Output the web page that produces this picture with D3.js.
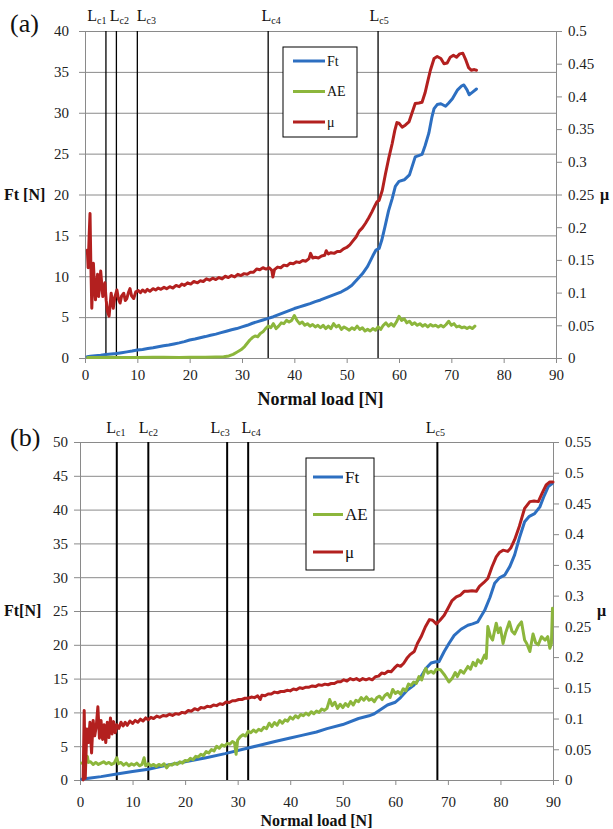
<!DOCTYPE html>
<html>
<head>
    <meta charset="utf-8">
    <title>Ft, AE and mu versus normal load</title>
    <style>
        body { margin: 0; background: #fff; }
        svg { display: block; }
        .grid line { stroke: #8a8a8a; stroke-width: 1; }
        .grid path { display: none; }
        .axis path, .axis line { stroke: #8a8a8a; }
        .series { fill: none; stroke-width: 3; stroke-linejoin: round; stroke-linecap: round; }
    </style>
</head>
<body>
    <svg id="chart" width="613" height="829"></svg>
    <script src="https://d3js.org/d3.v7.min.js"></script>
    <script>
        // ---------- panel (a) ----------
        const aCritical = [4, 6, 10, 35, 56];
        const aCriticalNames = ["c1", "c2", "c3", "c4", "c5"];
        // [normal load, Ft (N)]
        const aFt = [[0.4,0.16],[1,0.2],[2,0.27],[3,0.33],[4,0.42],[5,0.5],[6,0.55],[7,0.65],[8,0.75],[9,0.85],[10,0.97],
            [11,1.05],[12,1.15],[13,1.25],[14,1.38],[15,1.5],[16,1.6],[17,1.72],[18,1.85],[19,2.0],[20,2.2],[21,2.33],
            [22,2.48],[23,2.62],[24,2.78],[25,2.92],[26,3.1],[27,3.28],[28,3.45],[29,3.6],[30,3.8],[31,4.0],[32,4.25],
            [33,4.45],[34,4.65],[35,4.85],[36,5.05],[37,5.3],[38,5.55],[39,5.8],[40,6.05],[41,6.25],[42,6.45],[43,6.65],
            [44,6.9],[45,7.1],[46,7.35],[47,7.6],[48,7.85],[49,8.1],[50,8.45],[51,8.9],[52,9.6],[53,10.3],[54,11.2],
            [55,12.5],[55.6,13.2],[56.2,13.4],[56.7,14.4],[57.3,16],[58,18],[58.7,19.5],[59.3,21],[60,21.6],[61,21.8],
            [62,22.4],[63.1,24.6],[64.4,24.9],[65,26],[65.7,27.5],[66.3,29.5],[66.7,30.5],[67.3,31.0],[68,31.1],
            [68.9,30.8],[69.5,31.2],[70.2,31.7],[71.2,32.8],[72,33.3],[72.4,33.4],[73,32.8],[73.4,32.2],[74,32.5],[74.8,32.9]];
        // [normal load, AE] plotted on the Ft scale
        const aAE = [[0.5,0.05],[2,0.07],[5,0.08],[7,0.05],[10,0.06],[13,0.09],[15,0.1],[18,0.07],[20,0.08],[23,0.1],[25,0.12],
            [26.5,0.15],[27.5,0.25],[28.3,0.45],[29,0.7],[29.8,1.0],[30.5,1.4],[31,1.8],[31.5,2.2],[32,2.5],[32.5,2.7],
            [33,2.6],[33.5,3.0],[34,3.2],[34.5,3.6],[35,3.9],[35.5,3.7],[36,4.2],[36.5,3.6],[37,3.9],[37.5,4.3],[38,4.2],
            [38.5,4.6],[39,4.4],[39.5,4.6],[40,5.2],[40.5,4.6],[41,4.2],[41.5,4.4],[42,4.0],[42.5,4.2],[43,3.9],[43.5,4.1],
            [44,3.8],[44.5,4.0],[45,3.7],[45.5,4.0],[46,3.6],[46.5,3.9],[47,3.6],[47.5,4.2],[48,3.8],[48.5,4.0],[49,3.5],
            [49.5,3.8],[50,3.6],[50.5,3.4],[51,3.7],[51.5,3.5],[52,3.9],[52.5,3.5],[53,3.7],[53.5,3.3],[54,3.5],[54.5,3.3],
            [55,3.6],[55.5,3.4],[56,3.8],[56.5,3.5],[57,4.0],[57.5,4.3],[58,3.9],[58.5,4.2],[59,3.9],[59.5,4.4],[60,5.1],
            [60.5,4.6],[61,4.8],[61.5,4.3],[62,4.5],[62.5,4.1],[63,4.3],[63.5,4.0],[64,4.2],[64.5,3.9],[65,4.1],[65.5,3.8],
            [66,4.1],[66.5,3.9],[67,4.0],[67.5,3.8],[68,4.0],[68.5,3.8],[69,4.1],[69.5,4.5],[70,4.0],[70.5,4.2],[71,3.8],
            [71.5,3.9],[72,3.7],[72.5,3.8],[73,3.6],[73.5,3.8],[74,3.6],[74.5,3.9]];
        // [normal load, mu]
        const aMu = [[0.45,0.165],[0.6,0.138],[0.8,0.188],[0.96,0.221],[1.1,0.15],[1.3,0.076],[1.45,0.113],[1.6,0.145],
            [1.8,0.113],[2.0,0.089],[2.2,0.113],[2.4,0.128],[2.6,0.094],[2.8,0.11],[3.0,0.133],[3.2,0.113],[3.4,0.094],
            [3.6,0.106],[3.8,0.115],[4.05,0.088],[4.3,0.071],[4.6,0.064],[4.8,0.081],[5.0,0.099],[5.2,0.088],[5.4,0.076],
            [5.7,0.093],[6.1,0.104],[6.4,0.09],[6.7,0.084],[7.0,0.095],[7.4,0.099],[7.7,0.088],[8.0,0.091],[8.3,0.1],
            [8.6,0.106],[8.9,0.095],[9.3,0.091],[9.7,0.101],[10.2,0.103],[10.6,0.100],[11,0.104],[11.5,0.101],[11.9,0.105],
            [12.4,0.102],[13,0.106],[13.5,0.104],[14,0.107],[14.5,0.105],[15.1,0.108],[15.6,0.106],[16.2,0.109],[16.8,0.107],
            [17.4,0.111],[18,0.109],[18.5,0.113],[19,0.111],[19.6,0.115],[20.2,0.113],[20.8,0.117],[21.5,0.115],[22,0.118],
            [22.6,0.117],[23.2,0.121],[23.8,0.119],[24.4,0.122],[25,0.120],[25.6,0.123],[26.2,0.121],[26.8,0.125],
            [27.4,0.123],[28,0.126],[28.6,0.124],[29.2,0.128],[29.8,0.126],[30.4,0.129],[31,0.128],[31.6,0.131],[32.2,0.131],
            [32.8,0.136],[33.4,0.135],[34,0.138],[34.6,0.136],[35.2,0.138],[35.7,0.134],[35.9,0.124],[36.2,0.135],
            [36.8,0.139],[37.4,0.138],[38,0.142],[38.6,0.141],[39.2,0.145],[39.8,0.144],[40.4,0.147],[41,0.146],[41.6,0.149],
            [42.2,0.148],[42.8,0.152],[43.1,0.16],[43.5,0.153],[44,0.154],[44.6,0.153],[45.2,0.156],[45.8,0.157],
            [46.1,0.164],[46.5,0.159],[47,0.161],[47.6,0.16],[48.2,0.163],[48.8,0.163],[49.4,0.167],[50,0.169],[50.6,0.173],
            [51.2,0.179],[51.8,0.185],[52.4,0.194],[53,0.199],[53.6,0.206],[54.2,0.214],[54.8,0.223],[55.4,0.233],
            [55.8,0.239],[56.2,0.241],[56.8,0.256],[57.4,0.281],[58,0.304],[58.7,0.328],[59.2,0.348],[59.6,0.36],[60,0.359],
            [60.6,0.353],[61.2,0.356],[61.9,0.361],[62.5,0.375],[63.1,0.389],[63.8,0.39],[64.4,0.391],[65,0.406],[65.4,0.42],
            [66,0.44],[66.7,0.458],[67.3,0.461],[68,0.458],[68.6,0.45],[69.2,0.451],[69.8,0.46],[70.4,0.463],[71,0.46],
            [71.6,0.465],[72.2,0.466],[72.8,0.455],[73.3,0.444],[73.8,0.44],[74.4,0.441],[74.8,0.44]];

        // ---------- panel (b) ----------
        const bCritical = [7, 13, 28, 32, 68];
        const bCriticalNames = ["c1", "c2", "c3", "c4", "c5"];
        const bFt = [[0.3,0.1],[2,0.3],[4,0.5],[7,0.9],[10,1.25],[13,1.6],[16,2.1],[20,2.7],[24,3.3],[27.6,3.9],[31.8,4.7],
            [34,5.1],[37.1,5.7],[40,6.2],[42.2,6.6],[45,7.1],[47,7.6],[50,8.2],[53,9.1],[55,9.5],[56,9.8],[58.5,11.1],
            [60,11.5],[61,12.2],[62.3,13.3],[63.5,14.0],[64.9,15.3],[65.8,16.5],[66.8,17.3],[67.7,17.5],[68.3,17.5],
            [69.3,19.0],[70.2,20.2],[71.2,21.4],[72.5,22.3],[73.8,22.9],[74.7,23.1],[75.7,23.4],[77.0,25.1],[78,27],
            [78.9,29.1],[79.8,29.9],[80.8,30.3],[81.8,31.6],[82.7,33.3],[83.6,35.8],[84.6,38.2],[85.5,39.0],[86.5,39.4],
            [87.5,40.4],[88.3,42.0],[89.1,43.4],[89.9,43.9]];
        const bAE = [[0.3,2.5],[0.8,2.4],[1.2,2.9],[1.4,3.5],[1.6,2.6],[2,2.7],[2.5,2.3],[3,2.6],[3.5,2.3],[4,2.5],[4.5,2.7],
            [5,2.4],[5.5,2.6],[6,2.3],[6.5,2.5],[7,3.3],[7.3,2.4],[7.8,2.6],[8.3,2.2],[8.8,2.5],[9.3,2.1],[9.8,2.4],
            [10.3,2.2],[10.8,2.5],[11.3,2.1],[11.8,2.3],[12.2,3.3],[12.5,2.1],[13,2.4],[13.5,2.1],[14,2.3],[14.5,2.0],
            [15,2.3],[15.5,2.1],[16,2.4],[16.5,1.8],[17,2.3],[17.5,2.2],[18,2.5],[18.5,2.3],[19,2.7],[19.5,2.5],[20,2.9],
            [20.5,2.8],[21,3.2],[21.5,3.0],[22,3.5],[22.5,3.4],[23,3.8],[23.5,3.6],[24,4.2],[24.5,4.0],[25,4.5],[25.5,4.3],
            [26,5.0],[26.5,4.7],[27,5.2],[27.5,5.0],[28,5.4],[28.5,5.3],[29,5.7],[29.4,5.5],[29.7,3.8],[30,5.9],[30.5,6.4],
            [31,6.7],[31.5,6.5],[32,7.2],[32.5,7.0],[33,7.4],[33.5,7.1],[34,7.5],[34.5,7.3],[35,7.8],[35.5,7.6],[36,8.4],
            [36.5,7.9],[37,8.5],[37.5,8.1],[38,8.8],[38.5,8.4],[39,8.9],[39.5,8.7],[40,9.3],[40.5,9.0],[41,9.5],[41.5,9.2],
            [42,9.7],[42.5,9.5],[43,9.9],[43.5,9.6],[44,10.1],[44.5,9.8],[45,10.2],[45.5,10.0],[46,10.5],[46.5,10.3],
            [47,10.6],[47.5,11.9],[48,11.0],[48.5,11.5],[49,10.6],[49.5,11.2],[50,10.7],[50.5,11.3],[51,10.9],[51.5,11.6],
            [52,11.1],[52.5,11.8],[53,11.6],[53.5,12.2],[54,11.8],[54.5,12.3],[55,11.8],[55.5,12.0],[56,11.6],[56.5,12.2],
            [57,12.4],[57.5,11.9],[58,12.5],[58.5,12.8],[59,12.2],[59.5,13.4],[60,12.8],[60.5,13.1],[61,12.7],[61.5,13.5],
            [62,13.2],[62.5,14.2],[63,14.0],[63.5,14.5],[64,14.3],[64.5,15.3],[65,14.8],[65.5,16.0],[65.8,16.5],[66.2,15.8],
            [66.8,16.1],[67.3,15.8],[67.8,16.4],[68.6,16.3],[69.4,15.5],[70.2,14.5],[70.8,15.0],[71.4,15.9],[71.8,15.3],
            [72.4,16.2],[73,15.8],[73.8,16.8],[74.3,16.4],[74.8,17.4],[75.3,16.9],[75.7,17.8],[76.3,17.3],[77.0,18.5],
            [77.3,18.0],[77.6,22.7],[78.1,21.2],[78.5,20.7],[79.2,23.2],[79.6,21.8],[80.0,22.5],[80.5,20.2],[81.0,21.8],
            [81.7,23.4],[82.2,22.0],[82.7,21.6],[83.4,22.8],[84.0,23.4],[84.6,20.7],[85.0,20.2],[85.6,19.0],[86.2,21.6],
            [86.7,20.3],[87.2,20.0],[87.8,21.2],[88.5,20.7],[89.0,21.2],[89.4,19.5],[89.7,20.2],[89.9,25.4]];
        const bMu = [[0.6,0],[0.8,0.113],[1.0,0.003],[1.3,0.083],[1.6,0.061],[1.9,0.094],[2.2,0.044],[2.5,0.097],[2.8,0.072],
            [3.1,0.088],[3.4,0.119],[3.7,0.068],[4.0,0.097],[4.3,0.066],[4.6,0.09],[4.9,0.061],[5.2,0.094],[5.5,0.069],
            [5.8,0.101],[6.1,0.075],[6.4,0.095],[6.7,0.077],[7.0,0.090],[7.4,0.084],[7.8,0.094],[8.2,0.088],[8.6,0.094],
            [9.0,0.089],[9.5,0.096],[10,0.092],[10.5,0.097],[11,0.094],[11.5,0.099],[12,0.096],[12.5,0.101],[13,0.098],
            [13.5,0.102],[14,0.100],[14.6,0.104],[15.2,0.102],[15.8,0.105],[16.4,0.104],[17,0.107],[17.6,0.105],[18.2,0.108],
            [18.8,0.107],[19.4,0.110],[20,0.109],[20.6,0.113],[21.2,0.112],[21.8,0.116],[22.4,0.114],[23,0.118],[23.6,0.117],
            [24.2,0.120],[24.8,0.119],[25.4,0.122],[26,0.121],[26.6,0.124],[27.2,0.123],[27.8,0.127],[28.4,0.126],[29,0.129],
            [29.6,0.129],[30.2,0.131],[30.8,0.131],[31.4,0.133],[32,0.133],[32.6,0.135],[33.2,0.134],[33.8,0.137],[34.3,0.131],
            [34.6,0.138],[35.2,0.137],[35.8,0.140],[36.4,0.140],[37,0.143],[37.6,0.142],[38.2,0.144],[38.8,0.144],[39.4,0.146],
            [40,0.145],[40.6,0.148],[41.2,0.147],[41.8,0.150],[42.4,0.149],[43,0.151],[43.6,0.151],[44.2,0.153],[44.8,0.152],
            [45.4,0.155],[46,0.154],[46.6,0.156],[47.2,0.155],[47.8,0.157],[48.4,0.157],[49,0.160],[49.6,0.160],[50.2,0.163],
            [50.8,0.161],[51.4,0.165],[52,0.163],[52.6,0.165],[53.2,0.162],[53.8,0.165],[54.4,0.163],[55,0.165],[55.6,0.163],
            [56.2,0.168],[56.8,0.169],[57.4,0.174],[58,0.173],[58.6,0.177],[59.2,0.176],[59.8,0.182],[60.4,0.187],[61,0.185],
            [61.6,0.19],[62.2,0.198],[62.8,0.204],[63.6,0.209],[64.2,0.222],[64.9,0.233],[65.7,0.249],[66.5,0.261],
            [67.1,0.26],[67.8,0.254],[68.5,0.26],[69.3,0.268],[70,0.279],[70.8,0.292],[71.6,0.298],[72.4,0.301],[73.1,0.307],
            [73.8,0.307],[74.6,0.308],[75.4,0.307],[76,0.315],[76.8,0.321],[77.6,0.328],[78.4,0.347],[79.2,0.363],[79.8,0.37],
            [80.5,0.374],[81.4,0.372],[82,0.378],[82.7,0.391],[83.6,0.413],[84.6,0.442],[85.6,0.453],[86.4,0.454],
            [87.2,0.453],[88,0.468],[88.7,0.48],[89.4,0.485],[90,0.485]];

        const seriesNames = ["Ft", "AE", "\u03bc"];
        const seriesColors = ["#2d6fc1", "#8cb63c", "#b3201f"];
        const SERIF = "'Liberation Serif', 'Times New Roman', serif";

        const svg = d3.select("#chart");

        // d3 axes put a sans-serif font on the group; swap it for the serif one
        function styleAxis(sel) {
            sel.attr("font-family", null).attr("font-size", null);
            sel.selectAll("text").style("font-family", SERIF).style("font-size", "15px").attr("fill", "#222");
        }

        function drawPanel(p) {
            const g = svg.append("g");
            const x = d3.scaleLinear().domain([0, 90]).range([p.left, p.right]);
            const y = d3.scaleLinear().domain([0, p.ftMax]).range([p.bottom, p.top]);
            const y2 = d3.scaleLinear().domain([0, p.muMax]).range([p.bottom, p.top]);

            // horizontal grid
            g.append("g").attr("class", "grid")
                .attr("transform", "translate(" + p.left + ",0)")
                .call(d3.axisLeft(y).tickValues(p.ftTicks).tickSize(-(p.right - p.left)).tickFormat(""));

            // axes
            g.append("g").attr("class", "axis")
                .attr("transform", "translate(" + p.left + ",0)")
                .call(d3.axisLeft(y).tickValues(p.ftTicks).tickSizeOuter(0).tickSize(6).tickPadding(p.leftPad))
                .call(styleAxis);
            g.append("g").attr("class", "axis")
                .attr("transform", "translate(" + p.right + ",0)")
                .call(d3.axisRight(y2).tickValues(p.muTicks).tickSizeOuter(0).tickSize(6).tickPadding(6)
                    .tickFormat(d => String(+d.toFixed(2))))
                .call(styleAxis);
            g.append("g").attr("class", "axis")
                .attr("transform", "translate(0," + p.bottom + ")")
                .call(d3.axisBottom(x).tickValues(d3.range(0, 91, 10)).tickSizeOuter(0).tickSize(5).tickPadding(p.bottomPad))
                .call(styleAxis);

            // critical load markers
            g.selectAll(".lc").data(p.critical).join("line")
                .attr("class", "lc")
                .attr("x1", d => x(d)).attr("x2", d => x(d))
                .attr("y1", p.top).attr("y2", p.bottom)
                .attr("stroke", "#000")
                .attr("stroke-width", p.lcWidth);

            const lab = g.selectAll(".lclab").data(p.critical).join("text")
                .attr("class", "lclab")
                .attr("x", (d, i) => x(d) + p.lcShift[i])
                .attr("y", p.top - p.lcLift)
                .attr("text-anchor", "middle")
                .style("font-family", SERIF)
                .style("font-size", "16px")
                .attr("fill", "#111");
            lab.append("tspan").text("L");
            lab.append("tspan").attr("dy", 3).style("font-size", "10px").text((d, i) => p.names[i]);

            // series
            const line = d3.line().x(d => x(d[0]));
            const data = [
                { pts: p.ft, yy: y },
                { pts: p.ae, yy: y },
                { pts: p.mu, yy: y2 }
            ];
            data.forEach((s, i) => {
                g.append("path").attr("class", "series")
                    .attr("stroke", seriesColors[i])
                    .attr("d", line.y(d => s.yy(d[1]))(s.pts));
            });

            // legend
            const lg = g.append("g").attr("transform", "translate(" + p.legend[0] + "," + p.legend[1] + ")");
            lg.append("rect").attr("width", p.legend[2]).attr("height", p.legend[3])
                .attr("fill", "#fff").attr("stroke", "#000").attr("stroke-width", 1);
            seriesNames.forEach((n, i) => {
                const yy = p.legendRow[0] + i * p.legendRow[1];
                lg.append("line").attr("x1", p.legendLine[0]).attr("x2", p.legendLine[1])
                    .attr("y1", yy).attr("y2", yy)
                    .attr("stroke", seriesColors[i]).attr("stroke-width", 3);
                lg.append("text").attr("x", p.legendLine[1] + 2).attr("y", yy + p.legendFont * 0.35)
                    .style("font-family", SERIF)
                    .style("font-size", p.legendFont + "px").attr("fill", "#111").text(n);
            });

            // titles
            g.append("text").attr("x", 4).attr("y", p.ftTitleY)
                .style("font-family", SERIF).style("font-weight", "bold")
                .style("font-size", "16px").attr("fill", "#111").text(p.ftTitle);
            g.append("text").attr("x", p.right + 44).attr("y", p.ftTitleY)
                .style("font-family", SERIF).style("font-weight", "bold")
                .style("font-size", "16px").attr("fill", "#111").text("\u03bc");
            g.append("text").attr("x", (p.left + p.right) / 2).attr("y", p.xTitleY)
                .attr("text-anchor", "middle")
                .style("font-family", SERIF).style("font-weight", "bold")
                .style("font-size", p.xTitleSize + "px").attr("fill", "#111").text("Normal load [N]");
            g.append("text").attr("x", 10).attr("y", p.top + p.tagDy)
                .style("font-family", SERIF)
                .style("font-size", "26px").attr("fill", "#111").text(p.tag);
        }

        drawPanel({
            left: 85, right: 556, top: 31, bottom: 358,
            ftMax: 40, ftTicks: d3.range(0, 41, 5), muMax: 0.5, muTicks: d3.range(0, 0.501, 0.05),
            leftPad: 10, bottomPad: 6,
            critical: aCritical, names: aCriticalNames, lcShift: [-9, 3, 9, 3, 1], lcLift: 10, lcWidth: 1.3,
            ft: aFt, ae: aAE, mu: aMu,
            legend: [283, 47, 74, 90], legendRow: [14, 30.5], legendLine: [10, 42], legendFont: 14,
            ftTitle: "Ft [N]", ftTitleY: 200, xTitleY: 405, xTitleSize: 18, tag: "(a)", tagDy: 1
        });

        drawPanel({
            left: 80, right: 553, top: 442, bottom: 780,
            ftMax: 50, ftTicks: d3.range(0, 51, 5), muMax: 0.55, muTicks: d3.range(0, 0.551, 0.05),
            leftPad: 6, bottomPad: 11,
            critical: bCritical, names: bCriticalNames, lcShift: [-1, 0, -7, 3, -2], lcLift: 9, lcWidth: 2,
            ft: bFt, ae: bAE, mu: bMu,
            legend: [306, 458, 68, 112], legendRow: [19, 37.5], legendLine: [7, 37], legendFont: 17,
            ftTitle: "Ft[N]", ftTitleY: 616, xTitleY: 825.5, xTitleSize: 16, tag: "(b)", tagDy: 4
        });
    </script>
</body>
</html>
